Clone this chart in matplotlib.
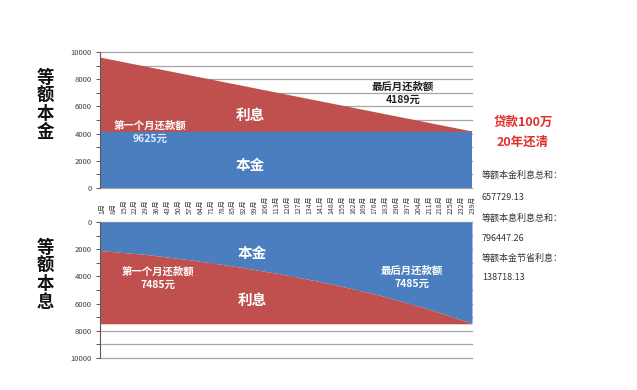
import matplotlib
matplotlib.use("Agg")
import matplotlib.pyplot as plt
from matplotlib.ticker import MultipleLocator
from matplotlib.transforms import blended_transform_factory

plt.rcParams['font.family'] = ['Noto Sans CJK SC', 'DejaVu Sans']

# ---- data ----
top_months = [1, 240]
top_principal = [4167, 4167]          # 等额本金: monthly principal (constant)
top_payment = [9625, 4189]            # 等额本金: total monthly payment

bot_months = [1, 30, 60, 90, 120, 150, 180, 210, 240]
bot_principal = [2100, 2380, 2800, 3300, 3880, 4560, 5370, 6320, 7450]  # 等额本息 principal part
bot_payment = [7485] * len(bot_months)                                  # 等额本息 monthly payment

month_ticks = list(range(1, 240, 7))
month_labels = [f"{m}月" for m in month_ticks]

RED = "#C0504D"
BLUE = "#4A7EBE"
GRID = "#A6A6A6"
TICKC = "#595959"

W, H = 637, 390
fig = plt.figure(figsize=(W / 100, H / 100), dpi=100)

def fx(x):
    return x / W

def fy(y):
    return 1 - y / H

ax_l, ax_w = fx(100), (472 - 100) / W
ax_top = fig.add_axes([ax_l, fy(188), ax_w, (188 - 52) / H])
ax_bot = fig.add_axes([ax_l, fy(358), ax_w, (358 - 222) / H])

for ax in (ax_top, ax_bot):
    ax.set_xlim(1, 240)
    ax.set_ylim(0, 10000)
    ax.yaxis.set_major_locator(MultipleLocator(2000))
    ax.yaxis.set_minor_locator(MultipleLocator(1000))
    for yv in range(0, 10001, 1000):
        ax.axhline(yv, color=GRID, lw=0.9, zorder=0, clip_on=False)
    for s in ("top", "right", "bottom"):
        ax.spines[s].set_visible(False)
    ax.spines["left"].set_color(TICKC)
    ax.spines["left"].set_linewidth(0.8)
    ax.tick_params(axis="y", which="both", length=3, width=0.7, color=TICKC,
                   labelsize=5.5, labelcolor="#404040", pad=3)
    ax.set_xticks([])

# top chart (等额本金)
ax_top.fill_between(top_months, 0, top_principal, color=BLUE, lw=0, zorder=2)
ax_top.fill_between(top_months, top_principal, top_payment, color=RED, lw=0, zorder=2)

# month labels between the two charts
trans = blended_transform_factory(ax_top.transData, fig.transFigure)
for m, lab in zip(month_ticks, month_labels):
    ax_top.text(m + 1.5, fy(214), lab, transform=trans, rotation=90, fontsize=5,
                color="#404040", ha="center", va="bottom", clip_on=False)

# bottom chart (等额本息), inverted axis
ax_bot.fill_between(bot_months, 0, bot_principal, color=BLUE, lw=0, zorder=2)
ax_bot.fill_between(bot_months, bot_principal, bot_payment, color=RED, lw=0, zorder=2)
ax_bot.set_ylim(10000, 0)

# left big labels
fig.text(fx(45), fy(105), "等\n额\n本\n金", fontsize=12.5, fontweight="bold",
         ha="center", va="center", linespacing=1.0, color="#111111")
fig.text(fx(45), fy(275), "等\n额\n本\n息", fontsize=12.5, fontweight="bold",
         ha="center", va="center", linespacing=1.0, color="#111111")

# annotations inside top chart
fig.text(fx(250), fy(115), "利息", fontsize=10.5, fontweight="bold", color="white",
         ha="center", va="center")
fig.text(fx(250), fy(165), "本金", fontsize=10.5, fontweight="bold", color="white",
         ha="center", va="center")
fig.text(fx(150), fy(126), "第一个月还款额", fontsize=7.5, fontweight="bold",
         color="white", ha="center", va="center")
fig.text(fx(150), fy(139), "9625元", fontsize=7.5, fontweight="bold",
         color="#DDEBFF", ha="center", va="center")
fig.text(fx(403), fy(87), "最后月还款额", fontsize=7.5, fontweight="bold",
         color="#222222", ha="center", va="center")
fig.text(fx(403), fy(100), "4189元", fontsize=7.5, fontweight="bold",
         color="#222222", ha="center", va="center")

# annotations inside bottom chart
fig.text(fx(252), fy(253), "本金", fontsize=10.5, fontweight="bold", color="white",
         ha="center", va="center")
fig.text(fx(252), fy(300), "利息", fontsize=10.5, fontweight="bold", color="white",
         ha="center", va="center")
fig.text(fx(158), fy(272), "第一个月还款额", fontsize=7.5, fontweight="bold",
         color="white", ha="center", va="center")
fig.text(fx(158), fy(285), "7485元", fontsize=7.5, fontweight="bold",
         color="white", ha="center", va="center")
fig.text(fx(412), fy(271), "最后月还款额", fontsize=7.5, fontweight="bold",
         color="white", ha="center", va="center")
fig.text(fx(412), fy(284), "7485元", fontsize=7.5, fontweight="bold",
         color="white", ha="center", va="center")

# right side notes
fig.text(fx(523), fy(122), "贷款100万", fontsize=9, fontweight="bold",
         color="#E0302A", ha="center", va="center")
fig.text(fx(523), fy(142), "20年还清", fontsize=9, fontweight="bold",
         color="#E0302A", ha="center", va="center")
notes = [(175, "等额本金利息总和："), (197, "657729.13"),
         (218, "等额本息利息总和："), (238, "796447.26"),
         (258, "等额本金节省利息："), (278, "138718.13")]
for y, t in notes:
    fig.text(fx(482), fy(y), t, fontsize=6.5, color="#333333",
             ha="left", va="center")

fig.savefig("out.png", dpi=100, facecolor="white")
